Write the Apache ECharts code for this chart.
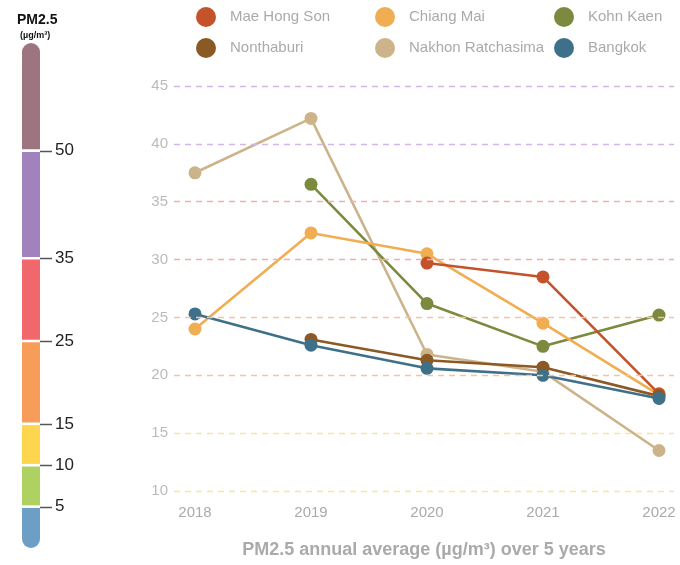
<!DOCTYPE html>
<html>
<head>
<meta charset="utf-8">
<script src="https://cdn.jsdelivr.net/npm/echarts@6/dist/echarts.min.js"></script>
<style>
  html, body { margin: 0; padding: 0; background: #fff; }
  #chart { width: 680px; height: 565px; }
</style>
</head>
<body>
<div id="chart"></div>
<script>
// years on x axis
const years = [2018, 2019, 2020, 2021, 2022];

// PM2.5 annual averages (µg/m³), null = no data
const maeHongSon = [null, null, 29.7, 28.5, 18.4];
const chiangMai = [24.0, 32.3, 30.5, 24.5, 18.3];
const kohnKaen = [null, 36.5, 26.2, 22.5, 25.2];
const nonthaburi = [null, 23.1, 21.3, 20.7, 18.2];
const nakhonRatchasima = [37.5, 42.2, 21.8, 20.3, 13.5];
const bangkok = [25.3, 22.6, 20.6, 20.0, 18.0];

// colour scale on the left: band labels and colours (bottom to top)
const scaleTicks = ['5', '10', '15', '25', '35', '50'];
const bandColors = ['#6d9ec6', '#aed161', '#fed54f', '#f89c5a', '#f0686c', '#a282bc', '#9e7480'];
// relative band sizes of the scale bar (it is not linear)
const bandSizes = [1, 1, 1, 2, 2, 2.6, 2.6];

// dashed grid line colours, from 10 up to 45
const gridColors = ['#fce3a0', '#fce3a0', '#f8c2a2', '#f8c2a2', '#f3aeae', '#f3aeae', '#d4b6e6', '#d4b6e6'];

const FONT = '"Liberation Sans", Arial, sans-serif';

// band edges along the bar
const bandEdges = [0];
bandSizes.forEach((s) => bandEdges.push(bandEdges[bandEdges.length - 1] + s));
const bandData = bandColors.map((c, i) => [bandEdges[i], bandEdges[i + 1], i]);

const cities = [
  { name: 'Nakhon Ratchasima', data: nakhonRatchasima, color: '#cdb38a' },
  { name: 'Kohn Kaen', data: kohnKaen, color: '#7b8a3e' },
  { name: 'Chiang Mai', data: chiangMai, color: '#f0ad52' },
  { name: 'Mae Hong Son', data: maeHongSon, color: '#c4532b' },
  { name: 'Nonthaburi', data: nonthaburi, color: '#8b5a24' },
  { name: 'Bangkok', data: bangkok, color: '#3e7189' },
];

const lineSeries = cities.map((c) => ({
  name: c.name,
  type: 'line',
  xAxisIndex: 0,
  yAxisIndex: 0,
  data: years.map((y, i) => (c.data[i] === null ? null : [y, c.data[i]])),
  color: c.color,
  symbol: 'circle',
  symbolSize: 13,
  lineStyle: { width: 2.6 },
  z: 3,
  emphasis: { disabled: true },
}));

// dashed horizontal guides, one per y tick, coloured by PM band
const gridSeries = {
  type: 'line',
  xAxisIndex: 0,
  yAxisIndex: 0,
  data: [],
  silent: true,
  z: 1,
  markLine: {
    symbol: 'none',
    silent: true,
    label: { show: false },
    data: gridColors.map((c, i) => ({
      yAxis: 10 + i * 5,
      lineStyle: { color: c, type: [6, 5], width: 1.3 },
    })),
  },
};

const legendBase = {
  orient: 'vertical',
  top: 2,
  icon: 'circle',
  itemWidth: 20,
  itemHeight: 20,
  itemGap: 11,
  selectedMode: false,
  textStyle: { color: '#aaa', fontSize: 15, fontFamily: FONT, padding: [0, 0, 0, 9] },
};

const chart = echarts.init(document.getElementById('chart'));
chart.setOption({
  animation: false,
  title: [
    {
      text: 'PM2.5',
      left: 12,
      top: 8,
      textStyle: { fontSize: 14, fontWeight: 'bold', color: '#111', fontFamily: FONT },
    },
    {
      text: '(µg/m³)',
      left: 15,
      top: 26,
      textStyle: { fontSize: 9, fontWeight: 'bold', color: '#111', fontFamily: FONT },
    },
  ],
  legend: [
    Object.assign({ left: 191, data: ['Mae Hong Son', 'Nonthaburi'] }, legendBase),
    Object.assign({ left: 370, data: ['Chiang Mai', 'Nakhon Ratchasima'] }, legendBase),
    Object.assign({ left: 549, data: ['Kohn Kaen', 'Bangkok'] }, legendBase),
  ],
  grid: [
    { left: 174, right: 6, top: 86, bottom: 74 },
    { left: 22, width: 18, top: 43, bottom: 17 },
  ],
  xAxis: [
    {
      type: 'value',
      gridIndex: 0,
      min: 2018 - 21 / 116,
      max: 2022 + 15 / 116,
      axisLine: { show: false },
      axisTick: { show: false },
      splitLine: { show: false },
      axisLabel: {
        customValues: years,
        color: '#aaa',
        fontSize: 15,
        fontFamily: FONT,
        margin: 14,
        formatter: (v) => String(Math.round(v)),
      },
      name: 'PM2.5 annual average (µg/m³) over 5 years',
      nameLocation: 'middle',
      nameGap: 50,
      nameTextStyle: { color: '#aaa', fontSize: 18, fontWeight: 'bold', fontFamily: FONT },
    },
    {
      type: 'value',
      gridIndex: 1,
      min: 0,
      max: 1,
      show: false,
    },
  ],
  yAxis: [
    {
      type: 'value',
      gridIndex: 0,
      min: 10,
      max: 45,
      interval: 5,
      axisLine: { show: false },
      axisTick: { show: false },
      axisLabel: { color: '#bbb', fontSize: 15, fontFamily: FONT, margin: 6 },
      splitLine: { show: false },
    },
    {
      type: 'value',
      gridIndex: 1,
      position: 'right',
      min: 0,
      max: bandEdges[bandEdges.length - 1],
      axisLine: { show: false },
      splitLine: { show: false },
      axisTick: { show: false },
      axisLabel: {
        customValues: bandEdges.slice(1, 7),
        color: '#222',
        fontSize: 17,
        fontFamily: FONT,
        margin: 15,
        formatter: (v) => scaleTicks[bandEdges.indexOf(v) - 1],
      },
    },
  ],
  series: [gridSeries].concat(lineSeries, [
    {
      type: 'custom',
      xAxisIndex: 1,
      yAxisIndex: 1,
      data: bandData,
      silent: true,
      z: 5,
      renderItem: (params, api) => {
        const i = api.value(2);
        const top = api.coord([0, api.value(1)])[1];
        const bottom = api.coord([0, api.value(0)])[1];
        const cs = params.coordSys;
        const last = bandColors.length - 1;
        const y0 = i === last ? top : top + 1.3;
        const y1 = i === 0 ? bottom : bottom - 1.3;
        const r = [i === last ? 9 : 0, i === last ? 9 : 0, i === 0 ? 9 : 0, i === 0 ? 9 : 0];
        const children = [{
          type: 'rect',
          shape: { x: cs.x, y: y0, width: cs.width, height: y1 - y0, r: r },
          style: { fill: bandColors[i] },
        }];
        // tick mark at the upper edge of every band but the last
        if (i < last) {
          const ty = Math.round(top) + 0.5;
          children.push({
            type: 'line',
            shape: { x1: cs.x + cs.width, y1: ty, x2: cs.x + cs.width + 12, y2: ty },
            style: { stroke: '#555', lineWidth: 1.5 },
          });
        }
        return { type: 'group', children: children };
      },
    },
  ]),
});
</script>
</body>
</html>
